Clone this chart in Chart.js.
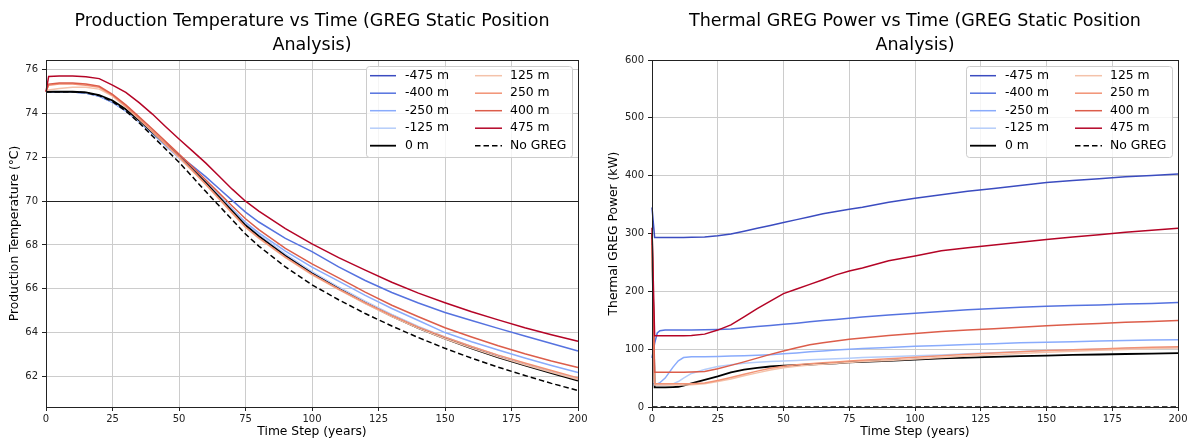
<!DOCTYPE html>
<html><head><meta charset="utf-8">
<script src="https://cdn.jsdelivr.net/npm/chart.js@4.4.0/dist/chart.umd.min.js"></script>
<style>
html,body{margin:0;padding:0;background:#fff;width:1192px;height:441px;overflow:hidden;}
canvas{position:absolute;top:0;}
#c1{left:0;} #c2{left:596px;}
</style></head><body>
<canvas id="c1" width="596" height="441"></canvas>
<canvas id="c2" width="596" height="441"></canvas>
<script>
// ---------- DATA ----------
const SERIES_LABELS = ['-475 m','-400 m','-250 m','-125 m','0 m','125 m','250 m','400 m','475 m','No GREG'];
const SERIES_COLORS = ['#3b4cc0','#5572df','#89abfc','#b5cdfa','#000000','#f4c2aa','#f29274','#dc5d4a','#b40426','#000000'];

const X_TICKS = [0,25,50,75,100,125,150,175,200];
const TEMP_Y_TICKS = [62,64,66,68,70,72,74,76];
const POWER_Y_TICKS = [0,100,200,300,400,500,600];
const TEMP_REF_LINE = 70;

const TEMP_YEARS = [0,1,5,10,15,20,25,30,35,40,45,50,55,60,65,70,75,80,90,100,110,120,130,140,150,160,170,180,190,200];
const TEMP_M475 = [75.00,75.00,75.00,74.99,74.94,74.80,74.54,74.14,73.65,73.12,72.60,72.07,71.48,70.88,70.24,69.60,68.95,68.45,67.55,66.75,66.05,65.40,64.80,64.25,63.77,63.33,62.92,62.55,62.20,61.85];
const TEMP_M400 = [75.00,75.00,75.00,74.99,74.94,74.80,74.52,74.13,73.64,73.11,72.60,72.10,71.62,71.12,70.58,70.04,69.50,69.05,68.30,67.70,67.00,66.38,65.83,65.35,64.92,64.55,64.19,63.84,63.50,63.16];
const TEMP_M250 = [75.00,75.00,75.00,74.99,74.94,74.79,74.52,74.12,73.62,73.08,72.53,71.98,71.42,70.85,70.25,69.64,69.04,68.55,67.72,66.99,66.35,65.70,65.10,64.55,64.00,63.58,63.20,62.84,62.50,62.18];
const TEMP_M125 = [75.00,75.00,75.00,74.99,74.95,74.82,74.56,74.16,73.66,73.12,72.58,72.04,71.46,70.87,70.24,69.60,68.96,68.47,67.58,66.78,66.08,65.43,64.83,64.28,63.80,63.36,62.95,62.58,62.23,61.88];
const TEMP_0   = [75.00,75.00,75.00,75.00,74.97,74.85,74.60,74.20,73.70,73.15,72.60,72.05,71.45,70.85,70.20,69.55,68.90,68.40,67.50,66.70,66.00,65.35,64.75,64.20,63.72,63.28,62.87,62.50,62.15,61.80];
const TEMP_P125 = [75.00,75.08,75.15,75.20,75.20,75.12,74.80,74.30,73.75,73.17,72.58,72.00,71.38,70.76,70.10,69.44,68.80,68.30,67.42,66.64,65.96,65.32,64.73,64.19,63.72,63.29,62.89,62.53,62.19,61.86];
const TEMP_P250 = [75.00,75.30,75.35,75.35,75.30,75.20,74.84,74.33,73.78,73.20,72.62,72.04,71.42,70.79,70.13,69.47,68.82,68.33,67.45,66.67,65.99,65.36,64.78,64.25,63.79,63.36,62.97,62.61,62.27,61.93];
const TEMP_P400 = [75.00,75.35,75.40,75.40,75.35,75.25,74.88,74.40,73.85,73.30,72.72,72.15,71.58,70.98,70.38,69.78,69.20,68.70,67.85,67.14,66.50,65.85,65.25,64.72,64.22,63.80,63.40,63.03,62.70,62.40];
const TEMP_P475 = [75.00,75.70,75.72,75.72,75.68,75.60,75.30,74.97,74.50,73.98,73.40,72.84,72.30,71.75,71.15,70.55,70.00,69.55,68.75,68.05,67.42,66.85,66.30,65.80,65.36,64.95,64.58,64.22,63.90,63.60];
const TEMP_NOGREG = [75.00,75.00,75.00,75.00,74.96,74.82,74.55,74.12,73.58,72.98,72.38,71.78,71.12,70.45,69.80,69.15,68.50,67.95,67.00,66.18,65.50,64.87,64.30,63.77,63.28,62.83,62.42,62.04,61.68,61.35];

const POWER_YEARS = [0,1,2,3,5,8,10,12,15,20,25,30,35,40,45,50,55,60,65,70,75,80,90,100,110,120,130,140,150,160,170,180,190,200];
const POWER_M475 = [345,293,293,293,293,293,293,293,293.5,294,296,299,304,309,314,319,324,329,334,338,342,345.5,354,361,367,373,378,383,388,391.5,394.5,398,400.5,403];
const POWER_M400 = [85,110,128,132,133,133,133,133,133,133.5,134,135,137,139,141,143,145,147.5,149.5,151.5,153.5,155.5,159,162,165,168,170.5,172.5,174,175.5,176.5,178,179,180.5];
const POWER_M250 = [40,40,40,42,50,69,80,85.5,87,87,87.5,88,88.5,89.5,90.5,92,93.5,95.5,97,98.5,100,101,103,105,106.5,108,109.5,111,112,113,114,115,115.7,116.4];
const POWER_M125 = [38,38,38,38,38,40,44,50,58,65,70,73,75.5,77.5,78.5,79.5,80.5,81.5,82.5,83.5,84.5,85.5,87,88.5,90,92,94,96,97.5,99,100,101,102,103];
const POWER_0    = [300,34,34,34,34,34.5,35,37,41,47,53,60,64.5,67.5,70,71.5,72.5,73.5,74.5,75.5,77,78,80,82,84,85.5,86.8,88,89,90,90.8,91.6,92.3,93];
const POWER_P125 = [280,38,38,38,38,38,38,38,38.5,40,44,48.5,54,59,64,68,70.5,72.5,74,75.5,77,78.5,80.5,83,85.5,88,90.5,92.5,94.5,96.5,98,99.5,101,102];
const POWER_P250 = [290,40,40,40,40,40,40,40,40,41.5,46,51,56.5,62,67,70.5,73,75,76.5,78,79.5,81,83.5,86,88.5,91,93.5,95.5,97.5,99,100.5,102,103.2,104.3];
const POWER_P400 = [300,60,60,60,60,60,60,60,60.5,61.5,66,72,78,84.5,91,97,102.5,107.5,111,114,117,119.5,123.5,127,130.5,133,135.5,138,140.5,142.5,144.5,146.5,148,149.5];
const POWER_P475 = [310,123,123,123,123,123,123,123,123.5,126,133,142,156,170,183,196,204,212,220,228.5,235,240.5,253,261,270,275.5,280,285,289.5,294,298,302,305.5,309];
const POWER_NOGREG = [0,0,0,0,0,0,0,0,0,0,0,0,0,0,0,0,0,0,0,0,0,0,0,0,0,0,0,0,0,0,0,0,0,0];

const TEMP_SERIES = [TEMP_M475,TEMP_M400,TEMP_M250,TEMP_M125,TEMP_0,TEMP_P125,TEMP_P250,TEMP_P400,TEMP_P475,TEMP_NOGREG];
const POWER_SERIES = [POWER_M475,POWER_M400,POWER_M250,POWER_M125,POWER_0,POWER_P125,POWER_P250,POWER_P400,POWER_P475,POWER_NOGREG];

// ---------- RENDER ----------
Chart.defaults.font.family = "'DejaVu Sans', sans-serif";
Chart.defaults.color = '#222';

function buildDatasets(years, series) {
  const n = series.length;
  return series.map((arr, i) => ({
    label: SERIES_LABELS[i],
    data: years.map((t, k) => ({x: t, y: arr[k]})),
    borderColor: SERIES_COLORS[i],
    backgroundColor: SERIES_COLORS[i],
    borderWidth: i === 4 ? 1.8 : 1.5,
    borderDash: i === 9 ? [5.5, 3] : [],
    pointRadius: 0,
    tension: 0,
    fill: false,
    clip: 3,
    order: n - i
  }));
}

const gregPlugin = {
  id: 'greg',
  beforeDatasetsDraw(chart, args, opts) {
    if (opts.refY == null) return;
    const {ctx, chartArea: a, scales: {y}} = chart;
    const py = Math.round(y.getPixelForValue(opts.refY)) + 0.5;
    ctx.save();
    ctx.strokeStyle = '#222'; ctx.lineWidth = 1;
    ctx.beginPath(); ctx.moveTo(a.left, py); ctx.lineTo(a.right, py); ctx.stroke();
    ctx.restore();
  },
  afterDraw(chart, args, opts) {
    const {ctx, chartArea: a} = chart;
    ctx.save();
    ctx.strokeStyle = '#222'; ctx.lineWidth = 1;
    ctx.strokeRect(a.left + 0.5, a.top + 0.5, a.right - a.left, a.bottom - a.top);
    // legend
    const bx = a.right - 212, by = a.top + 6, bw = 206, bh = 91;
    ctx.beginPath();
    ctx.roundRect(bx + 0.5, by + 0.5, bw, bh, 3);
    ctx.fillStyle = 'rgba(255,255,255,0.8)';
    ctx.fill();
    ctx.strokeStyle = '#cccccc';
    ctx.stroke();
    ctx.font = '12.4px "DejaVu Sans", sans-serif';
    ctx.textBaseline = 'middle';
    ctx.textAlign = 'left';
    chart.data.datasets.forEach((ds, i) => {
      const col = i < 5 ? 0 : 1, row = i % 5;
      const y = by + 9.7 + row * 17.5;
      const x0 = bx + (col ? 109 : 4), x1 = bx + (col ? 136 : 30), tx = bx + (col ? 144 : 39);
      ctx.strokeStyle = ds.borderColor; ctx.lineWidth = ds.borderWidth;
      ctx.setLineDash(ds.borderDash || []);
      ctx.beginPath(); ctx.moveTo(x0, y); ctx.lineTo(x1, y); ctx.stroke();
      ctx.setLineDash([]);
      ctx.fillStyle = '#000';
      ctx.fillText(ds.label, tx, y);
    });
    ctx.restore();
  }
};

function makeChart(id, cfg) {
  const setTicks = vals => scale => { scale.ticks = vals.map(v => ({value: v})); };
  return new Chart(document.getElementById(id), {
    type: 'line',
    data: {datasets: buildDatasets(cfg.years, cfg.series)},
    plugins: [gregPlugin],
    options: {
      responsive: false, animation: false, devicePixelRatio: 1,
      layout: {padding: {left: 0, right: cfg.padRight, top: 0, bottom: 0}},
      plugins: {
        legend: {display: false}, tooltip: {enabled: false},
        title: {display: true, text: cfg.title, fullSize: false, color: '#000',
          font: {size: 17.5, weight: 'normal', lineHeight: 24/17.5}, padding: {top: 9, bottom: 3}},
        greg: {refY: cfg.refY}
      },
      scales: {
        x: {
          type: 'linear', min: 0, max: 200,
          afterBuildTicks: setTicks(X_TICKS),
          afterFit: s => { s.height = 34; },
          grid: {color: '#cccccc', lineWidth: 1, tickLength: 4, tickColor: '#222'},
          border: {display: false},
          ticks: {font: {size: 10}, color: '#222', padding: 2, maxRotation: 0, autoSkip: false},
          title: {display: true, text: 'Time Step (years)', color: '#000',
            font: {size: 12.3, lineHeight: 1.2}, padding: {top: 0, bottom: 1.6}}
        },
        y: {
          type: 'linear', min: cfg.yMin, max: cfg.yMax,
          afterBuildTicks: setTicks(cfg.yTicks),
          afterFit: s => { s.width = cfg.yWidth; },
          grid: {color: '#cccccc', lineWidth: 1, tickLength: 4, tickColor: '#222'},
          border: {display: false},
          ticks: {font: {size: 10}, color: '#222', padding: 4, autoSkip: false},
          title: {display: true, text: cfg.yTitle, color: '#000',
            font: {size: 12.3, lineHeight: 1.2}, padding: {top: cfg.yTitlePad, bottom: 0}}
        }
      }
    }
  });
}

makeChart('c1', {
  years: TEMP_YEARS, series: TEMP_SERIES,
  title: ['Production Temperature vs Time (GREG Static Position', 'Analysis)'],
  yTitle: 'Production Temperature (°C)',
  yMin: 60.6, yMax: 76.45, yTicks: TEMP_Y_TICKS,
  yWidth: 46, padRight: 18, yTitlePad: 7.6, refY: TEMP_REF_LINE
});
makeChart('c2', {
  years: POWER_YEARS, series: POWER_SERIES,
  title: ['Thermal GREG Power vs Time (GREG Static Position', 'Analysis)'],
  yTitle: 'Thermal GREG Power (kW)',
  yMin: 0, yMax: 600, yTicks: POWER_Y_TICKS,
  yWidth: 56, padRight: 14, yTitlePad: 10.6, refY: null
});
</script></body></html>
